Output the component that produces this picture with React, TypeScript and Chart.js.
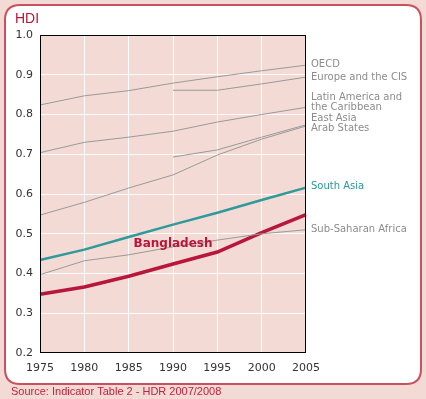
import React, { useEffect, useRef } from "react";
import { Chart, registerables } from "chart.js";

Chart.register(...registerables);

const years = ["1975", "1980", "1985", "1990", "1995", "2000", "2005"];
const oecd = [0.824, 0.847, 0.86, 0.879, 0.895, 0.91, 0.924];
const europeCIS = [null, null, null, 0.861, 0.861, 0.877, 0.894];
const latinAmerica = [0.704, 0.73, 0.743, 0.758, 0.781, 0.8, 0.818];
const eastAsia = [0.547, 0.579, 0.615, 0.648, 0.698, 0.738, 0.771];
const arabStates = [null, null, null, 0.693, 0.711, 0.743, 0.774];
const southAsia = [0.434, 0.46, 0.492, 0.523, 0.553, 0.585, 0.616];
const subSaharan = [0.397, 0.432, 0.447, 0.467, 0.484, 0.5, 0.51];
const bangladesh = [0.348, 0.366, 0.393, 0.424, 0.454, 0.503, 0.548];

const seriesLabels = [
  { text: "OECD", value: 0.927, color: "#8c8c8c" },
  { text: "Europe and the CIS", value: 0.894, color: "#8c8c8c" },
  { text: "Latin America and", value: 0.844, color: "#8c8c8c" },
  { text: "the Caribbean", value: 0.817, color: "#8c8c8c" },
  { text: "East Asia", value: 0.789, color: "#8c8c8c" },
  { text: "Arab States", value: 0.766, color: "#8c8c8c" },
  { text: "South Asia", value: 0.62, color: "#2a9696" },
  { text: "Sub-Saharan Africa", value: 0.512, color: "#8c8c8c" },
];

const CRIMSON = "#b8163a";
const GREY = "#999999";
const TEAL = "#2e9a9a";
const PINK_BG = "#f3dad4";

export default function App() {
  const ref = useRef<HTMLCanvasElement>(null);
  useEffect(() => {
    const canvas = ref.current!;
    const deco = {
      id: "deco",
      beforeDraw(chart: any) {
        const { ctx, chartArea } = chart;
        ctx.save();
        ctx.fillStyle = PINK_BG;
        ctx.fillRect(0, 0, 426, 399);
        // rounded white box
        const x = 5, y = 5, w = 416, h = 379, r = 15;
        ctx.beginPath();
        ctx.moveTo(x + r, y);
        ctx.lineTo(x + w - r, y);
        ctx.quadraticCurveTo(x + w, y, x + w, y + r);
        ctx.lineTo(x + w, y + h - r);
        ctx.quadraticCurveTo(x + w, y + h, x + w - r, y + h);
        ctx.lineTo(x + r, y + h);
        ctx.quadraticCurveTo(x, y + h, x, y + h - r);
        ctx.lineTo(x, y + r);
        ctx.quadraticCurveTo(x, y, x + r, y);
        ctx.closePath();
        ctx.fillStyle = "#ffffff";
        ctx.fill();
        ctx.lineWidth = 2;
        ctx.strokeStyle = "#c9515f";
        ctx.stroke();
        // plot background
        ctx.fillStyle = PINK_BG;
        ctx.fillRect(chartArea.left, chartArea.top, chartArea.right - chartArea.left, chartArea.bottom - chartArea.top);
        // title
        ctx.fillStyle = CRIMSON;
        ctx.font = "14px 'Liberation Sans', Arial, sans-serif";
        ctx.textBaseline = "middle";
        ctx.textAlign = "left";
        ctx.fillText("HDI", 15, 19);
        // source
        ctx.font = "11px 'Liberation Sans', Arial, sans-serif";
        ctx.fillStyle = "#c4203e";
        ctx.fillText("Source: Indicator Table 2 - HDR 2007/2008", 11, 392);
        ctx.restore();
      },
      afterDatasetsDraw(chart: any) {
        const { ctx, chartArea, scales } = chart;
        ctx.save();
        ctx.strokeStyle = "#000";
        ctx.lineWidth = 1;
        ctx.strokeRect(chartArea.left + 0.5, chartArea.top + 0.5, chartArea.right - chartArea.left - 1, chartArea.bottom - chartArea.top - 1);
        ctx.textBaseline = "middle";
        ctx.textAlign = "left";
        ctx.font = "10px 'DejaVu Sans', Verdana, sans-serif";
        for (const l of seriesLabels) {
          ctx.fillStyle = l.color;
          ctx.fillText(l.text, chartArea.right + 5, scales.y.getPixelForValue(l.value));
        }
        ctx.font = "bold 12px 'DejaVu Sans', Verdana, sans-serif";
        ctx.fillStyle = CRIMSON;
        ctx.textAlign = "center";
        ctx.fillText("Bangladesh", scales.x.getPixelForValue(3), scales.y.getPixelForValue(0.475));
        ctx.restore();
      },
    };
    const mk = (data: any[], color: string, width: number) => ({
      data,
      borderColor: color,
      backgroundColor: color,
      borderWidth: width,
      pointRadius: 0,
      tension: 0,
      spanGaps: false,
      fill: false,
    });
    const chart = new Chart(canvas, {
      type: "line",
      data: {
        labels: years,
        datasets: [
          mk(oecd, GREY, 1),
          mk(europeCIS, GREY, 1),
          mk(latinAmerica, GREY, 1),
          mk(eastAsia, GREY, 1),
          mk(arabStates, GREY, 1),
          mk(subSaharan, GREY, 1),
          mk(southAsia, TEAL, 2.5),
          mk(bangladesh, CRIMSON, 3.5),
        ],
      },
      options: {
        animation: false,
        responsive: false,
        layout: { padding: { top: 35, right: 120, left: 0, bottom: 0 } },
        plugins: { legend: { display: false }, tooltip: { enabled: false }, title: { display: false } },
        scales: {
          x: {
            type: "category",
            offset: false,
            grid: { color: "#ffffff", lineWidth: 1, drawTicks: false },
            border: { display: false },
            ticks: { color: "#333", font: { family: "'DejaVu Sans', Verdana, sans-serif", size: 11 }, padding: 9, maxRotation: 0, autoSkip: false },
            afterFit: (s: any) => { s.height = 46; },
          },
          y: {
            min: 0.2,
            max: 1.0,
            grid: { color: "#ffffff", lineWidth: 1, drawTicks: false },
            border: { display: false },
            ticks: {
              stepSize: 0.1,
              color: "#333",
              font: { family: "'DejaVu Sans', Verdana, sans-serif", size: 11 },
              padding: 7,
              callback: (v: any) => Number(v).toFixed(1),
            },
            afterFit: (s: any) => { s.width = 40; },
          },
        },
      },
      plugins: [deco],
    });
    return () => chart.destroy();
  }, []);
  return (
    <div style={{ position: "fixed", left: 0, top: 0, width: 426, height: 399 }}>
      <canvas ref={ref} width={426} height={399} style={{ display: "block", width: 426, height: 399 }} />
    </div>
  );
}
